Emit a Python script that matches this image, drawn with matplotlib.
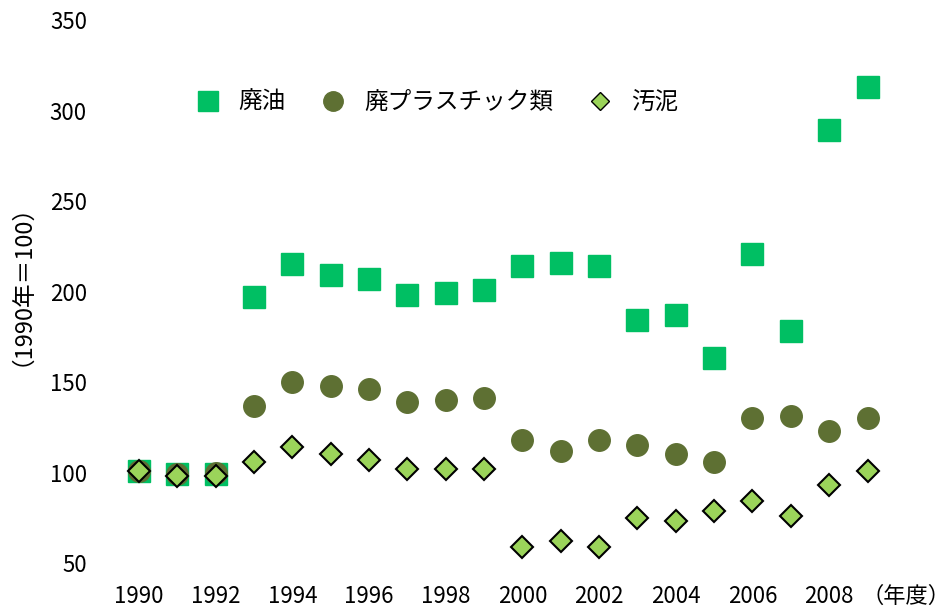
import matplotlib.pyplot as plt
from matplotlib.lines import Line2D

plt.rcParams['font.family'] = ['Noto Sans CJK JP', 'DejaVu Sans']

years = list(range(1990, 2010))
haiyu = [101, 99, 99, 197, 215, 209, 207, 198, 199, 201,
         214, 216, 214, 184, 187, 163, 221, 178, 289, 313]
haipura = [101, 99, 100, 137, 150, 148, 146, 139, 140, 141,
           118, 112, 118, 115, 110, 106, 130, 131, 123, 130]
odei = [101, 98, 98, 106, 114, 110, 107, 102, 102, 102,
        59, 62, 59, 75, 73, 79, 84, 76, 93, 101]
names = ['廃油', '廃プラスチック類', '汚泥']
xticks = list(range(1990, 2011, 2))
xlabels = [str(y) for y in range(1990, 2010, 2)] + ['（年度）']
yticks = [50, 100, 150, 200, 250, 300, 350]

green = '#00BF63'
olive = '#5E7033'
lime = '#9BD45A'

fig = plt.figure(figsize=(9.52, 6.16), dpi=100)
ax = fig.add_axes([0.1058, 0.086, 0.886, 0.8815])

ax.plot(years, haiyu, 's', color=green, markersize=16, zorder=2)
ax.plot(years, haipura, 'o', color=olive, markersize=15.5, zorder=3)
ax.plot(years, odei, 'D', color=lime, markeredgecolor='black',
        markeredgewidth=1.5, markersize=11, zorder=4)

ax.set_xlim(1989, 2011)
ax.set_ylim(50, 350)
ax.set_xticks(xticks)
ax.set_xticklabels(xlabels)
ax.set_yticks(yticks)
ax.tick_params(length=0, labelsize=16)
ax.tick_params(axis='x', pad=16)
ax.tick_params(axis='y', pad=10)
for s in ax.spines.values():
    s.set_visible(False)
ax.set_ylabel('（1990年＝100）', fontsize=17)
ax.yaxis.set_label_coords(-0.094, 0.535)

handles = [
    Line2D([], [], marker='s', color=green, linestyle='', markersize=14),
    Line2D([], [], marker='o', color=olive, linestyle='', markersize=14),
    Line2D([], [], marker='D', color=lime, markeredgecolor='black',
           linestyle='', markersize=9),
]
ax.legend(handles, names, loc='center left', bbox_to_anchor=(0.074, 0.848),
          ncol=3, frameon=False, fontsize=17, handletextpad=0.3,
          columnspacing=1.0)

fig.savefig('out.png')
